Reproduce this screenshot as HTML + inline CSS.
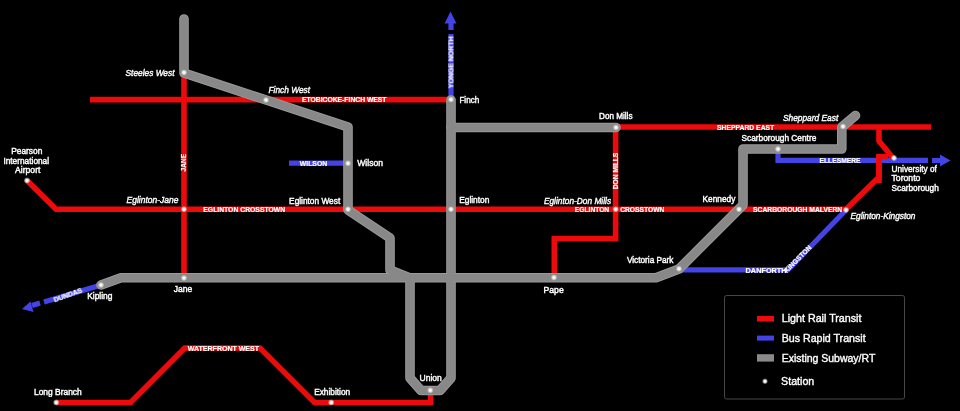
<!DOCTYPE html>
<html><head><meta charset="utf-8">
<style>
html,body{margin:0;padding:0;background:#000;width:960px;height:411px;overflow:hidden}
svg{display:block}
text{font-family:"Liberation Sans",sans-serif;fill:#fff}
.tg{opacity:0.99}
.st{font-size:8.8px;stroke:#fff;stroke-width:0.45px}
.it{font-size:8.8px;font-style:italic;stroke:#fff;stroke-width:0.4px}
.lb{font-size:6.9px;font-weight:bold;stroke:#fff;stroke-width:0.2px}
.lg{font-size:11.0px;stroke:#fff;stroke-width:0.4px}
</style></head><body>
<svg width="960" height="411" viewBox="0 0 960 411">
<defs>
<radialGradient id="dot" cx="50%" cy="50%" r="50%">
<stop offset="0" stop-color="#ffffff"/><stop offset="0.45" stop-color="#eeeeea"/><stop offset="1" stop-color="#c8c8c0" stop-opacity="0.35"/>
</radialGradient>
</defs>
<rect width="960" height="411" fill="#000"/>

<g fill="none" stroke="#4343e6" stroke-width="5.2">
<path d="M451,100 L451,34"/>
<path d="M289,163.2 L348,163.2"/>
<path d="M778,149 L778,160.4 L928,160.4"/>
<path d="M679,269.8 L788,269.8 L846,210"/>
<path d="M101,285 L44,302"/>
<path d="M451,30 L451,22"/>
<path d="M932,160.5 L941,160.5"/>
<path d="M40,303 L32,305.5"/>
</g>
<g fill="#4343e6">
<polygon points="444.5,23.5 456.5,23.5 450.5,11.5"/>
<polygon points="940,154.5 940,166.5 950.5,160.5"/>
<polygon points="30.5,301.5 33.5,312 22,309"/>
</g>
<g fill="none" stroke="#ec0a0a" stroke-width="5.6" stroke-linejoin="miter">
<path d="M90,99.6 L451,99.6"/>
<path d="M184,73 L184,278"/>
<path d="M27,180.5 L56,209.2 L846,209.2 L879,177 L879,155"/>
<path d="M616,127 L931,127"/>
<path d="M879,127 L879,141 L893,158"/>
<path d="M879,183 L879,156.5 L888,156.5"/>
<path d="M615.6,127 L615.6,238.5 L554.3,238.5 L554.3,278"/>
<path d="M56,402.5 L130.6,402.5 L184.8,348 L260,348 L314.5,402.5 L430.5,402.5 L430.5,390.7"/>
</g>
<g fill="none" stroke-linecap="round" stroke-linejoin="round">
<g stroke="#999999" stroke-width="9.6">
<path d="M184,19 L184,73 L348,127 L348,210 L390,238 L390,270 L410,278 L410,378 L421,390.5 L440,390.5 L451,378 L451,100"/>
<path d="M101,285 L121,277.8 L656,277.8 L679,269 L743,205 L743,149 L841.8,149 L841.8,127 L855.5,115.5"/>
<path d="M451,127.5 L616,127.5"/>
</g><g stroke="#888888" stroke-width="7.6">
<path d="M184,19 L184,73 L348,127 L348,210 L390,238 L390,270 L410,278 L410,378 L421,390.5 L440,390.5 L451,378 L451,100"/>
<path d="M101,285 L121,277.8 L656,277.8 L679,269 L743,205 L743,149 L841.8,149 L841.8,127 L855.5,115.5"/>
<path d="M451,127.5 L616,127.5"/>
</g></g>
<g class="lb tg">
<text x="302" y="102.4" textLength="84.5" lengthAdjust="spacingAndGlyphs">ETOBICOKE-FINCH WEST</text>
<text x="203.3" y="211.6" textLength="81.8" lengthAdjust="spacingAndGlyphs">EGLINTON CROSSTOWN</text>
<text x="574.8" y="211.6" textLength="34.4" lengthAdjust="spacingAndGlyphs">EGLINTON</text>
<text x="620.2" y="211.6" textLength="44.2" lengthAdjust="spacingAndGlyphs">CROSSTOWN</text>
<text x="717.1" y="129.6" textLength="57.1" lengthAdjust="spacingAndGlyphs">SHEPPARD EAST</text>
<text x="753.1" y="211.8" textLength="89.1" lengthAdjust="spacingAndGlyphs">SCARBOROUGH MALVERN</text>
<text x="187.8" y="350.6" textLength="71.2" lengthAdjust="spacingAndGlyphs">WATERFRONT WEST</text>
<text x="299.8" y="165.8" textLength="27.4" lengthAdjust="spacingAndGlyphs">WILSON</text>
<text x="819.5" y="162.6" textLength="41.1" lengthAdjust="spacingAndGlyphs">ELLESMERE</text>
<text x="745.6" y="272.6" textLength="41.0" lengthAdjust="spacingAndGlyphs">DANFORTH</text>
<text transform="translate(453.4,88.3) rotate(-90)" textLength="51.8" lengthAdjust="spacingAndGlyphs">YONGE NORTH</text>
<text transform="translate(186.4,171.4) rotate(-90)" textLength="17.4" lengthAdjust="spacingAndGlyphs">JANE</text>
<text transform="translate(618.0,189.2) rotate(-90)" textLength="36.5" lengthAdjust="spacingAndGlyphs">DON MILLS</text>
<text transform="translate(786.8,273.2) rotate(-45)" textLength="35.5" lengthAdjust="spacingAndGlyphs">KINGSTON</text>
<text transform="translate(54.8,302.4) rotate(-20)" textLength="29.5" lengthAdjust="spacingAndGlyphs">DUNDAS</text>
</g>
<g fill="url(#dot)">
<circle cx="184" cy="72.5" r="3"/>
<circle cx="266" cy="100" r="3"/>
<circle cx="451" cy="99.5" r="3"/>
<circle cx="616" cy="127.5" r="3"/>
<circle cx="843" cy="126.5" r="3"/>
<circle cx="778" cy="149" r="3"/>
<circle cx="894" cy="158" r="3"/>
<circle cx="27" cy="180.5" r="3"/>
<circle cx="348" cy="163.3" r="3"/>
<circle cx="184" cy="209.2" r="3"/>
<circle cx="348" cy="209.2" r="3"/>
<circle cx="451" cy="209.2" r="3"/>
<circle cx="615.7" cy="209.2" r="3"/>
<circle cx="739" cy="209.3" r="3"/>
<circle cx="846" cy="210" r="3"/>
<circle cx="679" cy="268.8" r="3"/>
<circle cx="101" cy="285" r="3"/>
<circle cx="184" cy="278" r="3"/>
<circle cx="554" cy="277.5" r="3"/>
<circle cx="56.2" cy="402.5" r="3"/>
<circle cx="331.2" cy="402.5" r="3"/>
<circle cx="430.3" cy="390.3" r="3"/>
</g>
<g class="it tg">
<text x="125.50" y="76" textLength="49.00" lengthAdjust="spacingAndGlyphs">Steeles West</text>
<text x="268.50" y="92.7" textLength="41.60" lengthAdjust="spacingAndGlyphs">Finch West</text>
<text x="782.90" y="120.6" textLength="55.40" lengthAdjust="spacingAndGlyphs">Sheppard East</text>
<text x="126.60" y="202.7" textLength="51.80" lengthAdjust="spacingAndGlyphs">Eglinton-Jane</text>
<text x="543.90" y="203.6" textLength="67.20" lengthAdjust="spacingAndGlyphs">Eglinton-Don Mills</text>
<text x="850.50" y="218.6" textLength="65.00" lengthAdjust="spacingAndGlyphs">Eglinton-Kingston</text>
</g>
<g class="st tg">
<text x="459.40" y="103.3" textLength="19.90" lengthAdjust="spacingAndGlyphs">Finch</text>
<text x="599.00" y="118.5" textLength="33.50" lengthAdjust="spacingAndGlyphs">Don Mills</text>
<text x="741.50" y="140.8" textLength="74.80" lengthAdjust="spacingAndGlyphs">Scarborough Centre</text>
<text x="891.50" y="171.6" textLength="45.40" lengthAdjust="spacingAndGlyphs">University of</text>
<text x="891.50" y="181.4" textLength="28.90" lengthAdjust="spacingAndGlyphs">Toronto</text>
<text x="891.50" y="191.1" textLength="47.30" lengthAdjust="spacingAndGlyphs">Scarborough</text>
<text x="11.20" y="153.6" textLength="31.10" lengthAdjust="spacingAndGlyphs">Pearson</text>
<text x="3.40" y="163.7" textLength="45.70" lengthAdjust="spacingAndGlyphs">International</text>
<text x="15.10" y="173" textLength="25.30" lengthAdjust="spacingAndGlyphs">Airport</text>
<text x="357.30" y="166.1" textLength="25.60" lengthAdjust="spacingAndGlyphs">Wilson</text>
<text x="289.10" y="203.6" textLength="51.10" lengthAdjust="spacingAndGlyphs">Eglinton West</text>
<text x="459.20" y="203.1" textLength="30.20" lengthAdjust="spacingAndGlyphs">Eglinton</text>
<text x="702.50" y="201.8" textLength="32.80" lengthAdjust="spacingAndGlyphs">Kennedy</text>
<text x="626.90" y="262.6" textLength="46.60" lengthAdjust="spacingAndGlyphs">Victoria Park</text>
<text x="543.50" y="292.5" textLength="20.20" lengthAdjust="spacingAndGlyphs">Pape</text>
<text x="173.70" y="292.2" textLength="18.50" lengthAdjust="spacingAndGlyphs">Jane</text>
<text x="87.20" y="299" textLength="25.30" lengthAdjust="spacingAndGlyphs">Kipling</text>
<text x="34.00" y="394.5" textLength="47.75" lengthAdjust="spacingAndGlyphs">Long Branch</text>
<text x="314.20" y="394.5" textLength="36.00" lengthAdjust="spacingAndGlyphs">Exhibition</text>
<text x="419.50" y="381" textLength="22.25" lengthAdjust="spacingAndGlyphs">Union</text>
</g>
<rect x="724.5" y="295.5" width="180" height="103.5" rx="2" fill="none" stroke="#474747" stroke-width="1"/>
<rect x="757" y="316" width="17" height="5.5" fill="#ec0a0a"/>
<rect x="757" y="335.6" width="17" height="5" fill="#4343e6"/>
<rect x="757" y="354.2" width="17" height="7.4" fill="#8a8a8a"/>
<circle cx="765" cy="381.3" r="2.7" fill="url(#dot)"/>
<g class="lg tg">
<text x="781.70" y="322.4" textLength="79.80" lengthAdjust="spacingAndGlyphs">Light Rail Transit</text>
<text x="781.70" y="341.5" textLength="83.90" lengthAdjust="spacingAndGlyphs">Bus Rapid Transit</text>
<text x="781.70" y="361.6" textLength="93.60" lengthAdjust="spacingAndGlyphs">Existing Subway/RT</text>
<text x="781.10" y="384.8" textLength="33.20" lengthAdjust="spacingAndGlyphs">Station</text>
</g>
</svg>
</body></html>
